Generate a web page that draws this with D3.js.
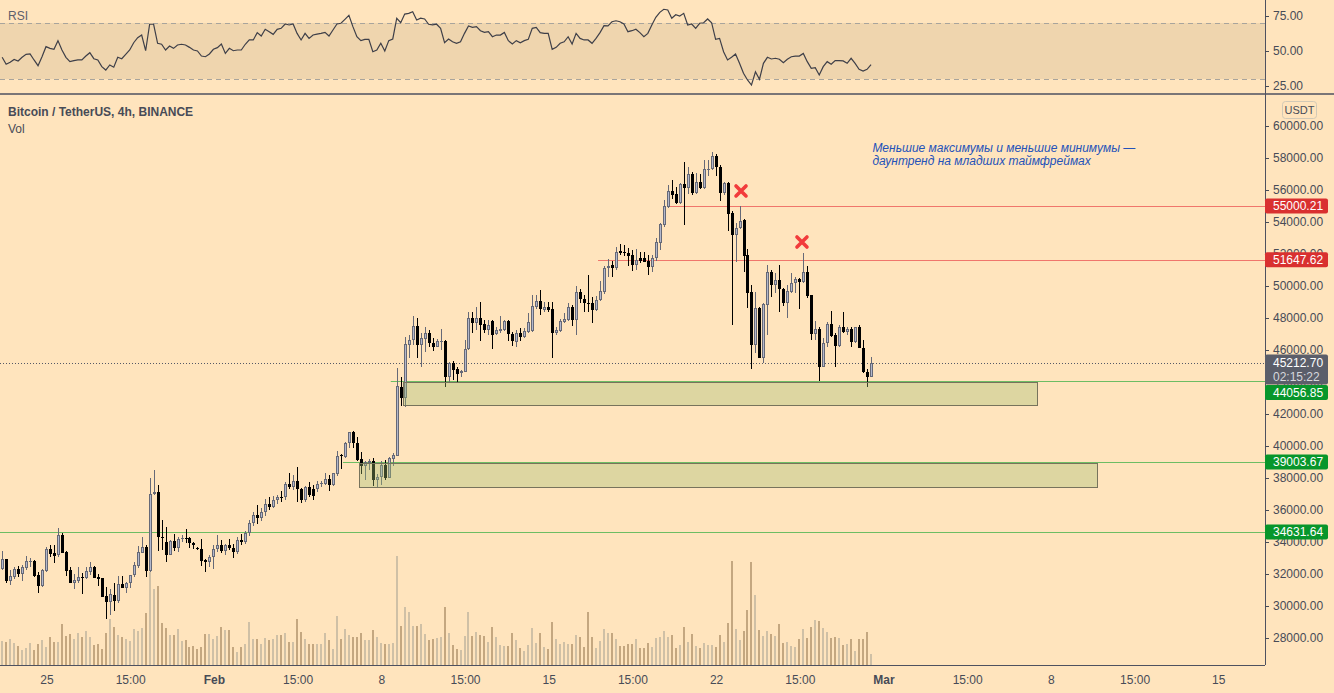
<!doctype html>
<html lang="en">
<head>
  <meta charset="UTF-8">
  <script src="https://cdn.jsdelivr.net/npm/d3@7"></script>
  <title>BTCUSDT 4h</title>
  <style>
    body{margin:0;background:#ffe4bd;}
    svg{display:block;font-family:"Liberation Sans",Arial,sans-serif;}
  </style>
</head>
<body>
  <div class="chart"></div>
  <script>
    // 4h candles, first one Jan 23 03:00
    const open = [32290,32920,31580,31835,32310,32000,32400,32790,32810,31940,31270,32210,33540,33290,33190,34440,33375,32250,31460,31560,31835,31730,32150,32460,31830,31730,30625,30270,30690,30335,31375,31105,31415,31915,32520,33335,33670,32210,36980,37125,34310,34020,33190,34040,33600,34190,34250,34250,33915,33640,33560,32875,32770,33060,33540,33815,33450,33800,33600,33350,34150,34000,34550,35200,35700,35500,35900,36400,36200,36627,36790,36794,37627,37460,37814,37293,36600,37418,37335,37335,37606,37648,37939,37564,38252,39440,39335,40168,40876,40168,39168,38772,38918,39064,37877,38043,38814,37981,39189,39397,43709,43022,46333,46625,47500,46333,46709,47042,46417,46209,46522,46563,44334,45168,44813,44543,44647,46042,47980,47709,47980,47605,47250,47813,46980,47188,47250,47813,46980,46522,47084,46834,47146,47209,48709,49063,48500,48709,48542,47084,47209,47771,47875,48709,47875,49625,49188,48959,48917,48500,49100,49647,51105,51314,51147,52189,52126,52043,51918,51314,51772,51730,51584,51210,51730,52709,53814,54959,55938,55751,55209,56375,56105,57000,55834,56480,56105,57250,57292,58125,57417,55834,56417,54542,53188,53605,54126,51938,49605,46314,48606,45481,48814,50855,50064,50376,49793,48960,49647,50168,50439,50272,50855,49439,47002,47293,44960,46418,47627,46939,46252,47418,47148,47314,46523,47460,46106,44648,44335];
    const high = [33440,32950,32250,32460,32500,32560,33125,33020,32850,32150,32315,33710,33815,33815,34900,34540,33440,32460,32000,32460,32040,32460,32770,32520,32000,31760,31210,31040,31415,31875,31875,31520,31940,32770,33750,34335,33810,37980,38500,37565,35375,34915,34130,34500,34335,34440,34810,34310,34020,33710,34190,32915,33190,33815,34440,34100,33900,34200,33900,34300,34500,34700,35400,35900,36300,36100,36700,36800,36900,36940,37189,37773,38293,38189,38668,37350,37500,37752,37564,37835,37814,38293,38189,38335,39689,39502,40251,40897,40939,40585,39605,39085,39170,39230,38252,39043,39127,39335,39543,44897,44292,46833,46938,48125,47979,47042,47459,47250,46729,46667,47292,46626,45272,45334,44959,44751,46626,48396,48396,48709,49021,47875,47875,47875,47417,48125,47875,47875,47146,47250,47355,47355,48292,49438,49438,49750,49021,49021,49021,47459,47917,48292,48917,48813,50000,49792,49438,50688,49334,49375,50320,51251,51668,51584,52418,52626,52563,52355,52251,52293,52147,52147,51939,51939,52980,53918,55376,56313,56625,56209,56459,57771,57459,57105,57042,57000,57875,57875,58396,58250,57563,56521,56521,54709,53918,55001,54188,52313,50064,49605,48668,48918,51314,51001,50793,51314,49855,50064,50834,50584,50480,52084,51272,49439,47814,47460,46731,47772,48460,47043,47564,48397,47460,47460,47460,47564,46627,44815,45585];
    const low = [32250,31420,31310,31670,31790,31585,32250,32460,31835,30835,31210,32150,33040,32710,33040,33335,31875,31420,31040,31420,30750,31670,31920,31730,31270,30585,29190,29440,29710,30210,31105,30790,31105,31835,32400,33290,31835,32150,36940,33440,33500,32770,33190,33460,33375,34020,33915,33600,33540,33500,32520,32150,32460,32315,33400,33300,33200,33500,33000,33250,33800,33900,34400,35000,35100,35300,35600,36000,36100,36400,36500,36627,37335,37252,36500,36450,36500,36835,36600,37148,37460,37543,37210,37502,38148,38564,39252,39855,39876,39043,38252,37877,38502,37502,37356,37564,37877,37981,38772,39377,42501,42459,45480,46313,45480,44917,45896,46167,45959,46168,46000,43709,43918,44126,43918,44334,44647,46000,47042,47250,46584,47042,46938,46063,46938,47042,47209,46584,46251,46168,46584,46730,47042,47146,48542,48188,48396,48396,45480,46938,47146,47709,47834,47500,46938,48917,48396,48397,47709,48459,49040,49501,50584,50543,51001,51939,51876,51251,50960,51001,51418,51480,50689,50897,51584,52251,53668,54855,55417,55126,55126,53814,55730,55688,55751,56042,56042,56875,57250,56875,55313,55688,53459,47564,51522,53543,50897,48606,44814,45793,45481,45169,46939,49335,49585,48397,48751,48022,49585,49585,48543,50210,49231,46627,46627,44085,44919,46210,46835,44960,46210,47085,46939,46210,46460,46106,44585,43710,44335];
    const close = [32920,31560,31875,32290,32000,32440,32790,32800,31875,31270,32250,33560,33250,33150,34440,33335,32210,31420,31625,31810,31730,32190,32460,31770,31710,30585,30270,30750,30335,31355,31145,31415,31915,32560,33355,33710,32210,36980,37105,34290,34230,33190,34060,33600,34190,34270,34210,33915,33810,33540,32835,32770,33060,33540,33815,33450,33800,33600,33350,34150,34000,34550,35200,35700,35500,35900,36400,36200,36650,36794,36770,37627,37460,37814,37293,36600,37418,36919,36898,37627,37710,37939,37564,38293,39377,39400,40168,40855,40168,39127,38772,38981,39064,37877,38043,38814,37981,39230,39439,43751,43022,46376,46625,47500,46313,46730,47042,46417,46209,46563,46563,44334,45168,44751,44502,44688,46042,47980,47709,47980,47563,47250,47563,46938,47250,47292,47813,46980,46584,47084,46834,47188,47771,48750,49063,48542,48709,48500,47084,47250,47813,47938,48709,47875,49625,49167,48917,48917,48500,49125,49670,51105,51251,51105,52105,52043,52043,51876,51314,51626,51584,51522,51210,51730,52772,53876,55001,55938,55688,55167,56375,56146,57000,55792,56480,56105,57292,57292,58125,57417,55834,56417,54501,53188,53605,54084,51897,49585,46314,48606,45481,48876,50855,50064,50376,49793,48960,49689,50168,50439,50272,50855,49376,47002,47293,44960,46418,47627,46877,46252,47418,47148,47293,46523,47418,46106,44606,44335,45210];
    // volume, BTC
    const volume = [24,23,26,22,19,15,17,22,15,21,25,18,28,23,23,41,29,31,26,32,28,34,28,20,21,16,32,46,38,30,28,26,24,36,34,37,52,93,76,79,42,37,30,30,36,24,25,18,19,16,
      18,31,31,26,29,38,35,35,18,13,18,21,43,26,26,21,27,25,26,30,30,32,23,23,46,33,26,21,21,21,21,32,25,16,49,26,36,30,28,28,32,25,25,35,28,22,21,21,22,109,
      39,58,53,39,39,41,31,25,
      26,27,28,58,32,20,16,15,29,53,29,33,30,29,23,38,28,20,19,19,32,25,17,14,20,37,22,32,18,16,43,26,21,23,21,21,30,28,18,53,28,17,24,36,32,32,26,19,19,21,21,26,17,17,22,18,27,28,34,28,30,17,20,38,23,31,19,17,22,20,20,18,30,23,42,104,36,25,34,55,103,70,35,29,34,31,29,41,22,23,19,18,26,36,27,38,45,44,37,33,27,28,27,20,21,26,14,26,26,33,11].map(v => v * 500);
    // RSI(14)
    const rsi = [45.5,40.5,41.9,44.0,42.9,45.5,47.6,47.9,43.6,39.5,45.9,53.1,51.9,51.2,57.4,50.7,45.5,42.4,43.1,43.6,43.6,46.4,48.8,44.5,43.6,38.8,36.4,40.0,38.4,45.5,44.5,47.6,50.7,55.9,59.5,61.4,50.2,69.1,69.1,55.5,54.8,50.7,53.6,51.9,54.3,54.8,54.3,52.6,50.7,50.0,46.4,45.9,47.9,51.2,52.4,55.0,48.3,51.9,50.2,50.7,
      50.7,54.8,57.9,57.9,63.1,60.7,65.5,63.8,61.9,65.5,66.2,69.3,68.6,69.3,62.6,57.9,62.6,59.0,61.4,62.1,62.6,63.3,60.7,65.0,69.3,69.8,72.6,75.5,67.4,60.2,57.4,58.3,58.3,49.5,50.7,55.5,50.0,57.4,58.6,73.4,70.2,76.4,76.9,78.1,72.1,73.4,72.9,69.1,68.6,69.1,
      66.2,55.9,58.6,56.6,55.5,56.6,62.6,67.9,66.9,67.4,64.5,63.3,63.8,60.2,61.4,61.4,63.3,57.4,55.0,57.4,55.9,57.4,58.3,66.2,66.9,63.1,62.6,62.6,51.2,52.6,55.5,56.6,60.2,55.0,62.6,59.0,57.9,57.9,55.5,59.0,63.1,68.1,67.9,70.9,71.6,70.9,69.3,63.8,64.5,65.5,63.1,60.2,62.6,68.6,74.1,77.6,79.8,79.3,73.4,75.9,75.0,76.9,68.6,69.3,66.2,69.8,70.2,72.9,70.2,58.3,59.0,49.5,43.6,45.5,47.9,41.2,34.1,29.3,25.7,35.2,29.8,41.2,45.5,44.3,44.8,44.1,41.6,44.1,45.9,46.4,46.4,48.3,42.4,37.6,38.1,32.9,38.8,42.4,40.5,43.1,43.1,42.9,41.2,44.8,41.2,36.9,35.7,36.9,40.2];

    const timeTicks = ['2021-01-25T00:00Z','2021-01-28T12:00Z','2021-02-01T00:00Z','2021-02-04T12:00Z','2021-02-08T00:00Z','2021-02-11T12:00Z','2021-02-15T00:00Z','2021-02-18T12:00Z','2021-02-22T00:00Z','2021-02-25T12:00Z','2021-03-01T00:00Z','2021-03-04T12:00Z','2021-03-08T00:00Z','2021-03-11T12:00Z','2021-03-15T00:00Z'];
    const timeLabels = ['25','15:00','Feb','15:00','8','15:00','15','15:00','22','15:00','Mar','15:00','8','15:00','15'];
    const priceTicks = d3.range(28000, 60001, 2000);
    const rsiTicks = [75, 50, 25];

    // drawn levels and zones
    const levels = [
      {price: 55000.21, from: '2021-02-20T01:00Z', color: '#f0766c', tag: '#d93030'},
      {price: 51647.62, from: '2021-02-17T01:00Z', color: '#f0766c', tag: '#d93030'},
      {price: 44056.85, from: '2021-02-08T09:00Z', color: '#6dbd63', tag: '#07962b'},
      {price: 39003.67, from: '2021-02-06T09:00Z', color: '#6dbd63', tag: '#07962b'},
      {price: 34631.64, from: '2021-01-20T00:00Z', color: '#6dbd63', tag: '#07962b'}
    ];
    const zones = [
      {from: '2021-02-08T21:20Z', to: '2021-03-07T09:30Z', top: 43990, bottom: 42560},
      {from: '2021-02-07T01:10Z', to: '2021-03-09T21:40Z', top: 38950, bottom: 37440}
    ];
    const crosses = [
      {t: '2021-02-23T00:30Z', price: 55940},
      {t: '2021-02-25T13:40Z', price: 52750}
    ];
    const lastPrice = 45212.70;
    const countdown = '02:15:22';

    const W = 1334, H = 693, plotR = 1265, mainTop = 95, mainBot = 665;
    const t0 = Date.UTC(2021, 0, 23, 3);
    const data = close.map((c, i) => ({t: new Date(t0 + i * 4 * 3600e3), o: open[i], h: high[i], l: low[i], c, v: volume[i], r: rsi[i]}));

    const x = d3.scaleUtc().domain([new Date('2021-01-25T00:00Z'), new Date('2021-03-01T00:00Z')]).range([47, 884]);
    const y = d3.scaleLinear().domain([28000, 60000]).range([638, 126]);
    const yVol = d3.scaleLinear().domain([0, 60000]).range([mainBot, 545]);
    const yRsi = d3.scaleLinear().domain([25, 75]).range([86, 16]);

    const txt = '#474b57';
    const svg = d3.select('.chart').append('svg').attr('width', W).attr('height', H);
    svg.append('rect').attr('width', W).attr('height', H).attr('fill', '#ffe4bd');
    const defs = svg.append('defs');
    defs.append('clipPath').attr('id', 'clipMain').append('rect').attr('x', 0).attr('y', mainTop).attr('width', plotR).attr('height', mainBot - mainTop);
    defs.append('clipPath').attr('id', 'clipRsi').append('rect').attr('x', 0).attr('y', 0).attr('width', plotR).attr('height', 93);

    // ---- RSI pane
    const rp = svg.append('g').attr('clip-path', 'url(#clipRsi)');
    rp.append('rect').attr('x', 0).attr('width', plotR).attr('y', yRsi(70)).attr('height', yRsi(30) - yRsi(70)).attr('fill', '#efd5ae');
    [70, 30].forEach(v => rp.append('line').attr('x1', 0).attr('x2', plotR).attr('y1', yRsi(v) + 0.5).attr('y2', yRsi(v) + 0.5)
      .attr('stroke', '#a8a49c').attr('stroke-dasharray', '5,4'));
    rp.append('path').datum(data).attr('fill', 'none').attr('stroke', '#3e3f48').attr('stroke-width', 1.2)
      .attr('d', d3.line().x(d => x(d.t)).y(d => yRsi(d.r)));
    svg.append('text').attr('x', 8).attr('y', 20).attr('font-size', 12).attr('fill', '#5d606b').text('RSI');
    svg.append('line').attr('x1', 0).attr('x2', W).attr('y1', 94).attr('y2', 94).attr('stroke', '#4e5160').attr('stroke-width', 1.5);

    // ---- main pane
    const mp = svg.append('g').attr('clip-path', 'url(#clipMain)');
    mp.selectAll('rect.vol').data(data).enter().append('rect').attr('class', 'vol')
      .attr('x', d => Math.round(x(d.t)) - 1).attr('width', 2)
      .attr('y', d => yVol(d.v)).attr('height', d => mainBot - yVol(d.v))
      .attr('fill', d => d.c >= d.o ? '#cfc0a6' : '#c4a780');

    levels.forEach(l => {
      const yy = Math.round(y(l.price)) + 0.5;
      mp.append('line').attr('x1', Math.max(0, x(new Date(l.from)))).attr('x2', plotR).attr('y1', yy).attr('y2', yy)
        .attr('stroke', l.color).attr('stroke-width', 1);
    });
    const ly = Math.round(y(lastPrice)) + 0.5;
    mp.append('line').attr('x1', 0).attr('x2', plotR).attr('y1', ly).attr('y2', ly)
      .attr('stroke', '#555866').attr('stroke-dasharray', '1,2');

    // candles: up = light body with grey outline, down = solid black
    const cg = mp.append('g').attr('shape-rendering', 'crispEdges');
    const c = cg.selectAll('g').data(data).enter().append('g');
    c.append('rect').attr('x', d => Math.round(x(d.t))).attr('width', 1)
      .attr('y', d => y(d.h)).attr('height', d => Math.max(1, y(d.l) - y(d.h)))
      .attr('fill', d => d.c >= d.o ? '#666977' : '#000');
    c.append('rect').attr('x', d => Math.round(x(d.t)) - 1).attr('width', 3)
      .attr('y', d => y(Math.max(d.o, d.c))).attr('height', d => Math.max(1, Math.abs(y(d.o) - y(d.c))))
      .attr('fill', d => d.c >= d.o ? '#666977' : '#000');
    c.filter(d => d.c >= d.o && y(d.o) - y(d.c) > 2).append('rect').attr('x', d => Math.round(x(d.t))).attr('width', 1)
      .attr('y', d => y(d.c) + 1).attr('height', d => y(d.o) - y(d.c) - 2).attr('fill', '#b3b7cb');

    zones.forEach(z => {
      const x0 = x(new Date(z.from)), x1 = x(new Date(z.to));
      mp.append('rect').attr('x', Math.round(x0) + 0.5).attr('y', Math.round(y(z.top)) + 0.5)
        .attr('width', Math.round(x1 - x0)).attr('height', Math.round(y(z.bottom) - y(z.top)))
        .attr('fill', 'rgba(161,188,112,0.36)').attr('stroke', '#77735c').attr('stroke-width', 1);
    });

    crosses.forEach(k => {
      mp.append('path').attr('transform', `translate(${x(new Date(k.t))},${y(k.price)})`)
        .attr('d', 'M-5,-5L5,5M-5,5L5,-5').attr('stroke', '#f23b3b').attr('stroke-width', 3.6).attr('stroke-linecap', 'round');
    });

    const noteX = x(new Date('2021-02-28T12:20Z'));
    const note = mp.append('text').attr('x', noteX).attr('font-size', 12)
      .attr('font-style', 'italic').attr('fill', '#2452b9');
    note.append('tspan').attr('y', 152).text('Меньшие максимумы и меньшие минимумы —');
    note.append('tspan').attr('x', noteX).attr('y', 165).text('даунтренд на младших таймфреймах');

    svg.append('text').attr('x', 8).attr('y', 116).attr('font-size', 12).attr('font-weight', 'bold').attr('fill', txt)
      .text('Bitcoin / TetherUS, 4h, BINANCE');
    svg.append('text').attr('x', 8).attr('y', 133).attr('font-size', 12).attr('fill', txt).text('Vol');

    // ---- axes
    svg.append('line').attr('x1', plotR + 0.5).attr('x2', plotR + 0.5).attr('y1', 0).attr('y2', mainBot).attr('stroke', '#4e5160');
    svg.append('line').attr('x1', 0).attr('x2', plotR).attr('y1', mainBot + 0.5).attr('y2', mainBot + 0.5).attr('stroke', '#4e5160');

    const pa = svg.append('g');
    priceTicks.forEach(p => {
      pa.append('line').attr('x1', plotR).attr('x2', plotR + 4).attr('y1', Math.round(y(p)) + 0.5).attr('y2', Math.round(y(p)) + 0.5).attr('stroke', txt);
      pa.append('text').attr('x', 1273).attr('y', y(p)).attr('dy', '0.35em').attr('font-size', 12).attr('fill', txt).text(p.toFixed(2));
    });
    rsiTicks.forEach(v => {
      pa.append('line').attr('x1', plotR).attr('x2', plotR + 4).attr('y1', Math.round(yRsi(v)) + 0.5).attr('y2', Math.round(yRsi(v)) + 0.5).attr('stroke', txt);
      pa.append('text').attr('x', 1273).attr('y', yRsi(v)).attr('dy', '0.35em').attr('font-size', 12).attr('fill', txt).text(v.toFixed(2));
    });
    pa.append('rect').attr('x', 1282.5).attr('y', 101.5).attr('width', 34).attr('height', 17).attr('rx', 3)
      .attr('fill', 'none').attr('stroke', '#d2c9b6');
    pa.append('text').attr('x', 1299.5).attr('y', 114).attr('text-anchor', 'middle').attr('font-size', 11).attr('fill', txt).text('USDT');

    // price tags on the axis (they cover the tick labels underneath, as in the source)
    const tags = levels.map(l => ({price: l.price, color: l.tag, cy: y(l.price)}));
    const lastCy = y(lastPrice);
    pa.append('rect').attr('x', plotR).attr('y', lastCy - 8).attr('width', 63).attr('height', 30).attr('rx', 2).attr('fill', '#5b5e6a');
    pa.append('text').attr('x', 1273).attr('y', lastCy).attr('dy', '0.35em').attr('font-size', 12).attr('fill', '#fff').text(lastPrice.toFixed(2));
    pa.append('text').attr('x', 1273).attr('y', lastCy + 14).attr('dy', '0.35em').attr('font-size', 12).attr('fill', '#d6d7dc').text(countdown);
    tags.forEach(t => {
      let cy = t.cy;
      if (cy > lastCy - 16 && cy < lastCy + 30) cy = lastCy + 30;
      pa.append('rect').attr('x', plotR).attr('y', cy - 7.5).attr('width', 63).attr('height', 15).attr('rx', 2).attr('fill', t.color);
      pa.append('text').attr('x', 1273).attr('y', cy).attr('dy', '0.35em').attr('font-size', 12).attr('fill', '#fff').text(t.price.toFixed(2));
    });

    const ta = svg.append('g');
    timeTicks.forEach((s, i) => {
      const lab = timeLabels[i];
      ta.append('text').attr('x', x(new Date(s))).attr('y', 684).attr('text-anchor', 'middle').attr('font-size', 12)
        .attr('font-weight', /^[A-Z]/.test(lab) ? 'bold' : 'normal').attr('fill', txt).text(lab);
    });
  </script>
</body>
</html>
